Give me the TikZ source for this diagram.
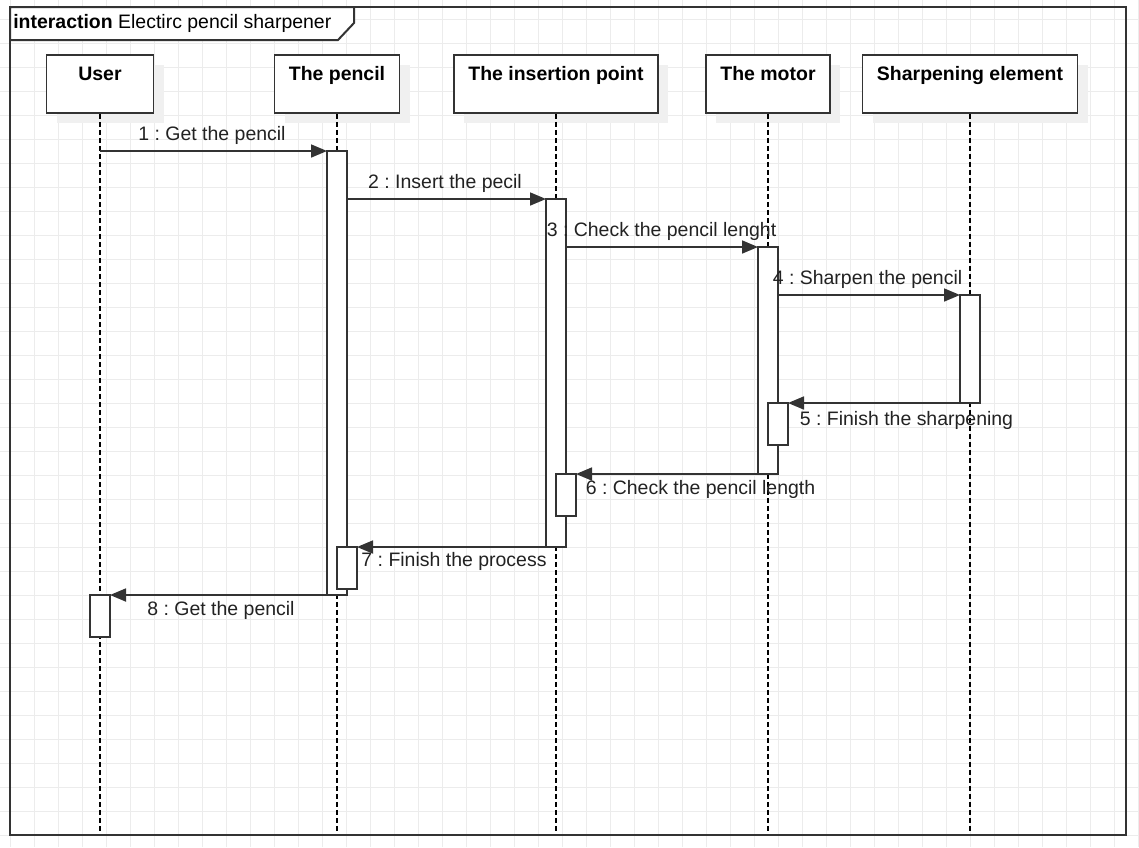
\documentclass[tikz,border=0pt]{standalone}
\usepackage{fontspec}
\setmainfont{Liberation Sans}
\usepackage{tikz}
\usetikzlibrary{arrows.meta}
\usetikzlibrary{shadows}
\definecolor{linec}{RGB}{51,51,51}
\definecolor{gridc}{RGB}{236,236,236}
\definecolor{shadowc}{RGB}{240,240,240}
\definecolor{textc}{RGB}{34,34,34}
\newcommand{\umlfont}{\fontsize{14.6}{17.5}\selectfont}
\frenchspacing
\tikzset{
  head/.style={draw=linec, fill=white, line width=1.3pt, inner xsep=0pt, inner ysep=2.25pt,
    text height=16.5pt, text depth=22.5pt, font=\umlfont\bfseries,
    drop shadow={shadow xshift=7.5pt, shadow yshift=-7.5pt, fill=shadowc, opacity=1}},
  act/.style={draw=linec, fill=white, line width=1.3pt, minimum width=15pt, inner sep=0pt, outer sep=0pt},
  lifeline/.style={draw=black, line width=1pt, dash pattern=on 3.5pt off 2.5pt},
  msg/.style={draw=linec, line width=1.3pt, -{Triangle[length=12pt,width=9.75pt]}},
  msglabel/.style={anchor=base, inner sep=0pt, font=\umlfont, text=textc},
}

\begin{document}
\begin{tikzpicture}[x=0.75pt,y=0.75pt,yscale=-1,xscale=1]
\useasboundingbox (0,0) rectangle (1139,847);

%Grid
\fill[white] (0,0) rectangle (1139,847);
\foreach \gx in {0,...,47} \draw[gridc, line width=0.75pt] (10.5+24*\gx,0) -- (10.5+24*\gx,847);
\foreach \gy in {0,...,34} \draw[gridc, line width=0.75pt] (0,19.3+24*\gy) -- (1139,19.3+24*\gy);

%Shape: Frame
\draw[linec, line width=1.5pt] (10,7) rectangle (1126,835);
\draw[linec, line width=1.5pt, fill=white] (10,7) -- (354,7) -- (354,23) -- (338,40) -- (10,40) -- cycle;
% Text Node
\node[anchor=base west, inner sep=0pt, font=\umlfont] (title) at (13,28.3) {\textbf{interaction} Electirc pencil sharpener};

%Shape: Lifeline heads
\node[head, minimum width=80.25pt] (user) at (100,84) {User};
\node[head, minimum width=93.75pt] (pencil) at (337,84) {The pencil};
\node[head, minimum width=153pt] (insertion) at (556,84) {The insertion point};
\node[head, minimum width=93pt] (motor) at (768,84) {The motor};
\node[head, minimum width=161.25pt] (sharp) at (970,84) {Sharpening element};

%Straight Lines: lifelines
\coordinate (bottom) at (0,833);
\foreach \ll in {user,pencil,insertion,motor,sharp}
  \draw[lifeline] (\ll.south) -- (\ll.south |- bottom);

%Shape: Activations
\node[act, minimum height=333pt] (pAct) at (337,373) {};
\node[act, minimum height=261pt] (iAct) at (556,373) {};
\node[act, minimum height=170.25pt] (mAct) at (768,360.5) {};
\node[act, minimum height=81pt] (sAct) at (970,349) {};
\node[act, minimum height=31.5pt] (mAct2) at (778,424) {};
\node[act, minimum height=31.5pt] (iAct2) at (566,495) {};
\node[act, minimum height=31.5pt] (pAct2) at (347,568) {};
\node[act, minimum height=31.5pt] (uAct) at (100,616) {};

%Straight Lines: messages
\draw[msg] (user.south |- pAct.north west) -- (pAct.north west);
\draw[msg] (pAct.east |- iAct.north) -- (iAct.north west);
\draw[msg] (iAct.east |- mAct.north) -- (mAct.north west);
\draw[msg] (mAct.east |- sAct.north) -- (sAct.north west);
\draw[msg] (sAct.south east) -- (mAct2.north east);
\draw[msg] (mAct.south east) -- (iAct2.north east);
\draw[msg] (iAct.south east) -- (pAct2.north east);
\draw[msg] (pAct.south east) -- (uAct.north east);

% Text Node
\node[msglabel] (m1) at (212,140) {1 : Get the pencil};
% Text Node
\node[msglabel] (m2) at (445,188.5) {2 : Insert the pecil};
% Text Node
\node[msglabel] (m3) at (661.5,236.5) {3 : Check the pencil lenght};
% Text Node
\node[msglabel] (m4) at (867.5,284.5) {4 : Sharpen the pencil};
% Text Node
\node[msglabel] (m5) at (906.5,425.5) {5 : Finish the sharpening};
% Text Node
\node[msglabel] (m6) at (700.5,494) {6 : Check the pencil length};
% Text Node
\node[msglabel] (m7) at (454,566.5) {7 : Finish the process};
% Text Node
\node[msglabel] (m8) at (221,615) {8 : Get the pencil};

\end{tikzpicture}
\end{document}
